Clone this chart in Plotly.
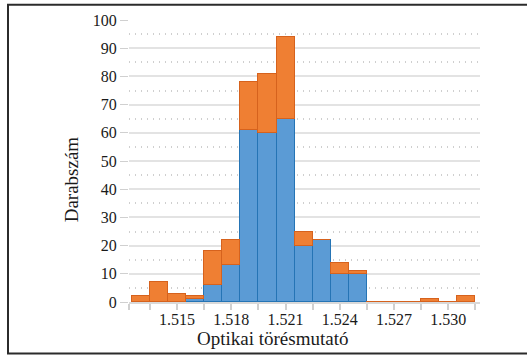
import plotly.graph_objects as go

# Bin centres (refractive index) and counts per series
bin_centers = [1.513, 1.514, 1.515, 1.516, 1.517, 1.518, 1.519, 1.520, 1.521,
               1.522, 1.523, 1.524, 1.525, 1.526, 1.527, 1.528, 1.529, 1.530, 1.531]
blue_counts = [0, 0, 0, 1, 6, 13, 61, 60, 65, 20, 22, 10, 10, 0, 0, 0, 0, 0, 0]
orange_counts = [2, 7, 3, 1, 12, 9, 17, 21, 29, 5, 0, 4, 1, 0, 0, 0, 1, 0, 2]

major_ticks = [1.515, 1.518, 1.521, 1.524, 1.527, 1.530]
major_labels = ["1.515", "1.518", "1.521", "1.524", "1.527", "1.530"]
minor_ticks = [1.51234, 1.5135, 1.5165, 1.5195, 1.5225, 1.5255, 1.5285, 1.5315]
y_ticks = list(range(0, 101, 10))

x_title = "Optikai törésmutató"
y_title = "Darabszám"

FONT = "Liberation Serif"

fig = go.Figure()
fig.add_trace(go.Bar(
    x=bin_centers, y=blue_counts, width=0.001,
    marker=dict(color="#5b9bd5", line=dict(color="#2574b5", width=1.5)),
    showlegend=False,
))
fig.add_trace(go.Bar(
    x=bin_centers, y=orange_counts, width=0.001,
    marker=dict(color="#ef7f33", line=dict(color="#d6621d", width=1.5)),
    showlegend=False,
))

W, H = 527, 355
L, R, T, B = 129, 47, 17, 53
pw, ph = W - L - R, H - T - B

def px_x(p):
    return (p - L) / pw

def px_y(p):
    return (H - B - p) / ph

border = dict(color="#2b2b2b", width=2)
fig.update_layout(
    width=W, height=H,
    barmode="stack", bargap=0,
    margin=dict(l=L, r=R, t=T, b=B, pad=0),
    paper_bgcolor="white", plot_bgcolor="white",
    font=dict(family=FONT, size=16, color="#1a1a1a"),
    xaxis=dict(
        range=[1.51234, 1.53175],
        tickmode="array", tickvals=major_ticks, ticktext=major_labels,
        ticks="outside", ticklen=6, tickcolor="#d0d0d0", tickwidth=1.5,
        ticklabelstandoff=-4,
        showgrid=False, zeroline=False,
        showline=True, linecolor="#d9d9d9", linewidth=2,
        minor=dict(tickmode="array", tickvals=minor_ticks, ticks="outside",
                   ticklen=6, tickcolor="#d0d0d0", tickwidth=1.5, showgrid=False),
        tickfont=dict(family=FONT, size=16),
    ),
    yaxis=dict(
        range=[0, 100],
        tickmode="array", tickvals=y_ticks,
        ticks="outside", ticklen=8, tickcolor="#d0d0d0", tickwidth=1,
        showgrid=True, gridcolor="#e3e3e3", gridwidth=1.5,
        zeroline=False, showline=False,
        minor=dict(dtick=5, tick0=0, showgrid=True, gridcolor="#cfcfcf",
                   griddash="1px,5px", gridwidth=1.5, ticks=""),
        tickfont=dict(family=FONT, size=16),
    ),
    annotations=[
        dict(text=x_title, xref="paper", yref="paper",
             x=px_x(272), y=px_y(339), xanchor="center", yanchor="middle",
             showarrow=False, font=dict(family=FONT, size=19, color="#1a1a1a")),
        dict(text=y_title, xref="paper", yref="paper", textangle=-90,
             x=px_x(71), y=px_y(178), xanchor="center", yanchor="middle",
             showarrow=False, font=dict(family=FONT, size=19, color="#1a1a1a")),
    ],
    shapes=[
        dict(type="line", xref="paper", yref="paper",
             x0=px_x(8), x1=px_x(8), y0=px_y(354), y1=px_y(1.5), line=border),
        dict(type="line", xref="paper", yref="paper",
             x0=px_x(7), x1=px_x(527), y0=px_y(1.5), y1=px_y(1.5), line=border),
        dict(type="line", xref="paper", yref="paper",
             x0=px_x(7), x1=px_x(527), y0=px_y(354), y1=px_y(354), line=border),
    ],
)

fig.write_html(
    "out.html", config={"displayModeBar": False},
    post_script=("document.body.style.margin='0px';"
                 "document.body.style.overflow='hidden';"
                 "document.documentElement.style.overflow='hidden';"),
)
